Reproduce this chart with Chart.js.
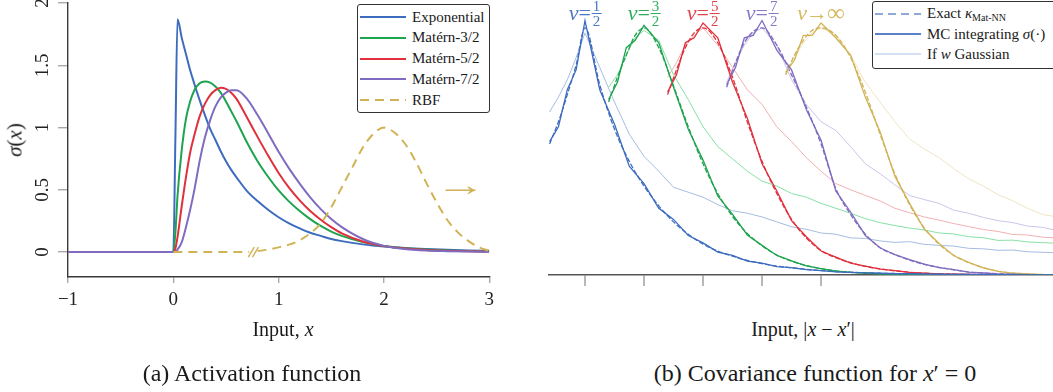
<!DOCTYPE html>
<html>
<head>
<meta charset="utf-8">
<script src="https://cdn.jsdelivr.net/npm/chart.js@4.4.1/dist/chart.umd.min.js"></script>
<style>
    html, body { margin: 0; padding: 0; background: #fff; }
    body {
        width: 1053px; height: 392px; position: relative; overflow: hidden;
        font-family: "Liberation Serif", "Times New Roman", serif; color: #1a1a1a;
    }
    canvas { position: absolute; top: 0; }
    #cA { left: 0; }
    #cB { left: 540px; }
    .txt { position: absolute; white-space: nowrap; transform: translate(-50%, -50%); }
    .m { font-style: italic; }
    .legend {
        position: absolute; background: #fff; border: 1.3px solid #333;
        border-radius: 3px; box-sizing: border-box;
    }
    .legend .row {
        position: absolute; left: 2px; height: 18px;
        display: flex; align-items: center; font-size: 15px;
    }
    .legend .row svg { margin-right: 6px; }
    .nu {
        position: absolute; top: 0; transform: translateX(-50%);
        display: flex; align-items: center; height: 26px; font-size: 22px; white-space: nowrap;
    }
    .frac {
        display: inline-flex; flex-direction: column; align-items: center;
        font-size: 15px; line-height: 12px; margin-left: 1px;
    }
    .frac .num { border-bottom: 1px solid currentColor; padding: 0 1px 1px; }
    .frac .den { padding-top: 1px; }
    sub { font-size: 10px; vertical-align: -3px; }
</style>
</head>
<body>
<canvas id="cA" width="500" height="340"></canvas>
<canvas id="cB" width="513" height="300"></canvas>

<div class="txt" style="left:15px;top:140px;font-size:21px;transform:translate(-50%,-50%) rotate(-90deg);"><span class="m">σ</span>(<span class="m">x</span>)</div>
<div class="txt" style="left:283px;top:329px;font-size:20px;">Input, <span class="m">x</span></div>
<div class="txt" style="left:803px;top:329px;font-size:20px;">Input, |<span class="m">x</span> − <span class="m">x</span>′|</div>
<div class="txt" style="left:252px;top:373px;font-size:24px;">(a) Activation function</div>
<div class="txt" style="left:815px;top:373px;font-size:24px;">(b) Covariance function for <span class="m">x</span>′ = 0</div>

<div id="legA" class="legend" style="left:357px;top:4px;width:133px;height:109px;"></div>
<div id="legB" class="legend" style="left:872px;top:1px;width:200px;height:68px;"></div>

<script>
// ---------- (a) activation functions ----------
const actX = [-1, 0, 0.02, 0.04, 0.08, 0.12, 0.16, 0.2, 0.25, 0.3, 0.35, 0.4, 0.45, 0.5, 0.55, 0.6,
              0.7, 0.8, 0.9, 1.0, 1.1, 1.2, 1.3, 1.4, 1.5, 1.6, 1.8, 2.0, 2.2, 2.4, 2.6, 2.8, 3.0];
const expY = [0, 0, 0.93, 1.87, 1.72, 1.59, 1.46, 1.35, 1.22, 1.10, 0.99, 0.90, 0.81, 0.73, 0.66, 0.60,
              0.49, 0.41, 0.34, 0.28, 0.23, 0.19, 0.155, 0.13, 0.105, 0.088, 0.062, 0.044, 0.032, 0.024, 0.018, 0.013, 0.01];
const m32Y = [0, 0, 0.16, 0.45, 0.82, 1.07, 1.21, 1.30, 1.355, 1.37, 1.36, 1.33, 1.28, 1.21, 1.13, 1.05,
              0.88, 0.73, 0.605, 0.495, 0.405, 0.33, 0.265, 0.21, 0.165, 0.13, 0.08, 0.048, 0.03, 0.02, 0.013, 0.009, 0.006];
const m52Y = [0, 0, 0.03, 0.12, 0.37, 0.60, 0.80, 0.94, 1.09, 1.19, 1.26, 1.30, 1.32, 1.31, 1.28, 1.23,
              1.08, 0.925, 0.775, 0.635, 0.515, 0.415, 0.33, 0.26, 0.20, 0.15, 0.085, 0.048, 0.028, 0.017, 0.011, 0.007, 0.004];
const m72Y = [0, 0, 0, 0.02, 0.08, 0.2, 0.34, 0.50, 0.73, 0.92, 1.06, 1.17, 1.24, 1.28, 1.30, 1.30,
              1.23, 1.10, 0.955, 0.805, 0.67, 0.55, 0.44, 0.345, 0.265, 0.20, 0.105, 0.05, 0.024, 0.012, 0.007, 0.004, 0.002];
// RBF is drawn shifted (null = axis break)
const rbfX = [0, 0.72, 0.76, 0.8, 0.9, 1.0, 1.1, 1.2, 1.3, 1.4, 1.5, 1.6, 1.7, 1.8, 1.9, 2.0,
              2.1, 2.2, 2.3, 2.4, 2.5, 2.6, 2.7, 2.8, 2.9, 3.0];
const rbfY = [0, 0, null, 0.008, 0.02, 0.038, 0.06, 0.095, 0.15, 0.23, 0.36, 0.52, 0.68, 0.84, 0.95, 1.0,
              0.96, 0.87, 0.73, 0.56, 0.40, 0.26, 0.16, 0.09, 0.04, 0.01];
const actTicksX = [-1, 0, 1, 2, 3];
const actTicksY = [0, 0.5, 1, 1.5, 2];
const actNames = ['Exponential', 'Matérn-3/2', 'Matérn-5/2', 'Matérn-7/2', 'RBF'];

// ---------- (b) covariance functions ----------
const kernelCenters = [0, 1, 2, 3, 4];
const gridR = [-0.6, -0.45, -0.3, -0.15, 0, 0.25, 0.5, 0.75, 1, 1.25, 1.5, 1.75, 2, 2.25, 2.5, 2.75,
               3, 3.25, 3.5, 3.75, 4, 4.25, 4.5, 4.75, 5, 5.25, 5.5, 5.75, 6, 6.25, 6.5, 6.75, 7, 7.25, 7.5, 7.75, 8];

const exact12 = [0.53, 0.62, 0.73, 0.85, 1.00, 0.77, 0.59, 0.46, 0.36, 0.28, 0.215, 0.165, 0.125, 0.097, 0.076, 0.059,
                 0.046, 0.036, 0.029, 0.023, 0.018, 0.014, 0.011, 0.009, 0.007, 0.006, 0.005, 0.004, 0.003, 0.0025, 0.002, 0.0015, 0.001, 0.001, 0.0005, 0.0003, 0];
const mc12    = [0.54, 0.60, 0.75, 0.83, 1.03, 0.75, 0.61, 0.44, 0.37, 0.27, 0.225, 0.16, 0.13, 0.093, 0.079, 0.056,
                 0.048, 0.034, 0.03, 0.022, 0.018, 0.013, 0.011, 0.009, 0.007, 0.005, 0.005, 0.004, 0.003, 0.002, 0.002, 0.001, 0.001, 0.001, 0, 0, 0];
const gauss12 = [0.66, 0.72, 0.79, 0.88, 0.98, 0.84, 0.70, 0.57, 0.48, 0.42, 0.355, 0.335, 0.315, 0.285, 0.26, 0.25,
                 0.235, 0.215, 0.195, 0.185, 0.17, 0.165, 0.15, 0.148, 0.138, 0.132, 0.135, 0.124, 0.12, 0.117, 0.108, 0.106, 0.10, 0.101, 0.094, 0.092, 0.09];

const exact32 = [0.70, 0.80, 0.89, 0.97, 1.00, 0.92, 0.765, 0.60, 0.45, 0.33, 0.237, 0.168, 0.118, 0.081, 0.056, 0.038,
                 0.026, 0.017, 0.011, 0.0075, 0.005, 0.003, 0.002, 0.0015, 0.001, 0.0007, 0.0005, 0.0003, 0.0002, 0, 0, 0, 0];
const mc32    = [0.71, 0.78, 0.92, 0.95, 1.01, 0.94, 0.76, 0.59, 0.465, 0.32, 0.245, 0.162, 0.12, 0.079, 0.057, 0.037,
                 0.026, 0.016, 0.011, 0.008, 0.005, 0.003, 0.002, 0.0015, 0.001, 0.001, 0.0005, 0, 0, 0, 0, 0, 0];
const gauss32 = [0.76, 0.81, 0.89, 0.96, 0.99, 0.95, 0.81, 0.71, 0.60, 0.52, 0.47, 0.42, 0.38, 0.36, 0.33, 0.315,
                 0.29, 0.27, 0.25, 0.228, 0.212, 0.2, 0.19, 0.182, 0.17, 0.166, 0.155, 0.151, 0.14, 0.141, 0.134, 0.131, 0.128];

const exact52 = [0.73, 0.83, 0.92, 0.98, 1.00, 0.94, 0.80, 0.62, 0.46, 0.33, 0.225, 0.15, 0.099, 0.07, 0.05, 0.035,
                 0.025, 0.017, 0.011, 0.007, 0.005, 0.003, 0.002, 0.001, 0.001, 0, 0, 0, 0];
const mc52    = [0.74, 0.81, 0.94, 0.96, 1.02, 0.96, 0.78, 0.635, 0.45, 0.34, 0.22, 0.155, 0.097, 0.072, 0.048, 0.036,
                 0.024, 0.018, 0.011, 0.007, 0.004, 0.003, 0.002, 0.001, 0, 0, 0, 0, 0];
const gauss52 = [0.80, 0.86, 0.93, 0.97, 1.00, 0.93, 0.84, 0.75, 0.69, 0.60, 0.54, 0.475, 0.42, 0.37, 0.345, 0.322,
                 0.30, 0.27, 0.252, 0.235, 0.222, 0.208, 0.196, 0.184, 0.176, 0.164, 0.162, 0.153, 0.15];

const exact72 = [0.76, 0.86, 0.94, 0.985, 1.00, 0.93, 0.81, 0.68, 0.53, 0.35, 0.245, 0.165, 0.11, 0.083, 0.06, 0.043,
                 0.031, 0.021, 0.012, 0.008, 0.005, 0.003, 0.002, 0.001, 0];
const mc72    = [0.77, 0.84, 0.96, 0.97, 1.03, 0.91, 0.83, 0.67, 0.545, 0.34, 0.255, 0.16, 0.11, 0.082, 0.062, 0.044,
                 0.03, 0.022, 0.012, 0.008, 0.004, 0.003, 0.001, 0.001, 0];
const gauss72 = [0.78, 0.86, 0.93, 0.98, 1.00, 0.93, 0.79, 0.69, 0.62, 0.585, 0.52, 0.45, 0.41, 0.365, 0.322, 0.305,
                 0.29, 0.262, 0.25, 0.233, 0.22, 0.212, 0.198, 0.193, 0.18];

const exactInf = [0.81, 0.89, 0.95, 0.99, 1.00, 0.97, 0.88, 0.74, 0.57, 0.41, 0.285, 0.19, 0.125, 0.08, 0.05, 0.03,
                  0.015, 0.008, 0.004, 0.002, 0];
const mcInf    = [0.82, 0.87, 0.97, 0.97, 1.02, 0.96, 0.89, 0.72, 0.58, 0.40, 0.29, 0.185, 0.128, 0.078, 0.051, 0.029,
                  0.015, 0.007, 0.004, 0.001, 0];
const gaussInf = [0.82, 0.88, 0.94, 0.98, 1.00, 0.97, 0.89, 0.78, 0.70, 0.62, 0.55, 0.51, 0.475, 0.43, 0.39, 0.36,
                  0.325, 0.30, 0.27, 0.245, 0.235];

const nuLabels = [['1', '2'], ['3', '2'], ['5', '2'], ['7', '2'], null];

// ---------- estilos ----------
const SERIF = '"Liberation Serif", "Times New Roman", serif';
const colors = ['#3d6cbf', '#1ea34f', '#e0303c', '#7f6bbf', '#d1b356'];
const lightColors = ['#a6bce2', '#88e0a6', '#f2b0b2', '#cdc4e8', '#f0e4c2'];
const textColors = ['#4a78c4', '#2eae5c', '#e2424c', '#8a78c6', '#d5ba62'];

const xy = (xs, ys) => ys.map((y, i) => ({ x: xs[i], y }));

// decoracion del panel (a): etiquetas giradas del eje y, corte del RBF y flecha
const leftDecor = {
    id: 'leftDecor',
    afterDraw(chart) {
        const { ctx, scales: { x, y } } = chart;
        ctx.save();
        ctx.fillStyle = '#222';
        ctx.font = '19px ' + SERIF;
        ctx.textAlign = 'center';
        ctx.textBaseline = 'middle';
        y.ticks.forEach(t => {
            ctx.save();
            ctx.translate(43, y.getPixelForValue(t.value));
            ctx.rotate(-Math.PI / 2);
            ctx.fillText(String(t.value), 0, 0);
            ctx.restore();
        });

        // marca de corte "//"
        const y0 = y.getPixelForValue(0);
        ctx.strokeStyle = colors[4];
        ctx.lineWidth = 1.4;
        [0.74, 0.78].forEach(v => {
            const px = x.getPixelForValue(v);
            ctx.beginPath();
            ctx.moveTo(px - 3, y0 + 5);
            ctx.lineTo(px + 3, y0 - 5);
            ctx.stroke();
        });

        // flecha
        ctx.fillStyle = colors[4];
        ctx.font = '30px ' + SERIF;
        ctx.translate(x.getPixelForValue(2.73), y.getPixelForValue(0.52));
        ctx.scale(1.7, 1);
        ctx.fillText('→', 0, 0);
        ctx.restore();
    }
};

const actSeries = [expY, m32Y, m52Y, m72Y];
const dsA = actSeries.map((ys, k) => ({
    label: actNames[k],
    data: xy(actX, ys),
    borderColor: colors[k],
    borderWidth: 2,
    cubicInterpolationMode: 'monotone',
    order: 4 - k
}));
dsA.push({
    label: actNames[4],
    data: xy(rbfX, rbfY),
    borderColor: colors[4],
    borderWidth: 2,
    borderDash: [9, 6],
    cubicInterpolationMode: 'monotone',
    order: 0
});

const chartA = new Chart(document.getElementById('cA'), {
    type: 'line',
    data: { datasets: dsA },
    options: {
        responsive: false,
        animation: false,
        layout: { padding: { top: 3, right: 10, left: 0, bottom: 0 } },
        plugins: { legend: { display: false }, tooltip: { enabled: false } },
        elements: { point: { radius: 0 } },
        scales: {
            x: {
                type: 'linear', min: -1, max: 3,
                afterBuildTicks: s => { s.ticks = actTicksX.map(v => ({ value: v })); },
                afterFit: s => { s.height = 63; },
                border: { display: true, color: '#3a3a3a', width: 1.4 },
                grid: { drawOnChartArea: false, drawTicks: true, tickLength: 6, color: '#aaa', lineWidth: 1.4 },
                ticks: {
                    color: '#222', padding: 6, maxRotation: 0,
                    font: { family: SERIF, size: 19 },
                    callback: v => (v < 0 ? '\u2212' + Math.abs(v) : String(v))
                }
            },
            y: {
                type: 'linear', min: -0.2, max: 2,
                afterBuildTicks: s => { s.ticks = actTicksY.map(v => ({ value: v })); },
                afterFit: s => { s.width = 68; },
                border: { display: true, color: '#3a3a3a', width: 1.4 },
                grid: { drawOnChartArea: false, drawTicks: true, tickLength: 10, color: '#aaa', lineWidth: 1.4 },
                ticks: { display: false }
            }
        }
    },
    plugins: [leftDecor]
});

// ---------- panel (b) ----------
const exactSeries = [exact12, exact32, exact52, exact72, exactInf];
const mcSeries = [mc12, mc32, mc52, mc72, mcInf];
const gaussSeries = [gauss12, gauss32, gauss52, gauss72, gaussInf];
const dsB = [];
kernelCenters.forEach((c, k) => {
    const pts = ys => ys.map((y, i) => ({ x: c + gridR[i], y }));
    dsB.push({ data: pts(gaussSeries[k]), borderColor: lightColors[k], borderWidth: 1, order: 20 });
    dsB.push({ data: pts(exactSeries[k]), borderColor: colors[k], borderWidth: 1.3, borderDash: [5, 2],
               cubicInterpolationMode: 'monotone', order: 10 });
    dsB.push({ data: pts(mcSeries[k]), borderColor: colors[k], borderWidth: 1.3, order: 5 });
});

const chartB = new Chart(document.getElementById('cB'), {
    type: 'line',
    data: { datasets: dsB },
    options: {
        responsive: false,
        animation: false,
        layout: { padding: { top: 0, right: 0, left: 9, bottom: 0 } },
        plugins: { legend: { display: false }, tooltip: { enabled: false } },
        elements: { point: { radius: 0 } },
        scales: {
            x: {
                type: 'linear', min: -0.61, max: 7.93,
                afterBuildTicks: s => { s.ticks = kernelCenters.map(v => ({ value: v })); },
                afterFit: s => { s.height = 25; },
                border: { display: true, color: '#555', width: 1.5 },
                grid: { drawOnChartArea: false, drawTicks: true, tickLength: 11, color: '#b8b8b8', lineWidth: 2 },
                ticks: { display: false }
            },
            y: { display: false, min: 0, max: 1.113 }
        }
    }
});

// ---------- etiquetas nu ----------
kernelCenters.forEach((c, k) => {
    const el = document.createElement('div');
    el.className = 'nu';
    el.style.color = textColors[k];
    el.style.left = (540 + chartB.scales.x.getPixelForValue(c)) + 'px';
    const f = nuLabels[k];
    el.innerHTML = f
        ? '<span class="m">ν</span>=<span class="frac"><span class="num">' + f[0] + '</span><span class="den">' + f[1] + '</span></span>'
        : '<span class="m">ν</span><span style="margin:0 -1px">→</span><span style="font-size:25px">∞</span>';
    document.body.appendChild(el);
});

// ---------- leyendas ----------
function sample(color, width, dash) {
    return '<svg width="46" height="6"><line x1="0" y1="3" x2="46" y2="3" stroke="' + color +
        '" stroke-width="' + width + '"' + (dash ? ' stroke-dasharray="' + dash + '"' : '') + '/></svg>';
}
const legA = document.getElementById('legA');
actNames.forEach((name, k) => {
    const row = document.createElement('div');
    row.className = 'row';
    row.style.top = (3 + k * 20.8) + 'px';
    row.innerHTML = sample(colors[k], 2.2, k === 4 ? '9 6' : null) + '<span>' + name + '</span>';
    legA.appendChild(row);
});

const legB = document.getElementById('legB');
const legBRows = [
    [sample('#8faad9', 2, '8 5'), 'Exact <span class="m">κ</span><sub>Mat-NN</sub>'],
    [sample('#5b82c8', 2), 'MC integrating <span class="m">σ</span>(·)'],
    [sample('#a9bfe6', 1.2), 'If <span class="m">w</span> Gaussian']
];
legBRows.forEach((r, k) => {
    const row = document.createElement('div');
    row.className = 'row';
    row.style.top = (3 + k * 20) + 'px';
    row.innerHTML = r[0] + '<span>' + r[1] + '</span>';
    legB.appendChild(row);
});
</script>
</body>
</html>
